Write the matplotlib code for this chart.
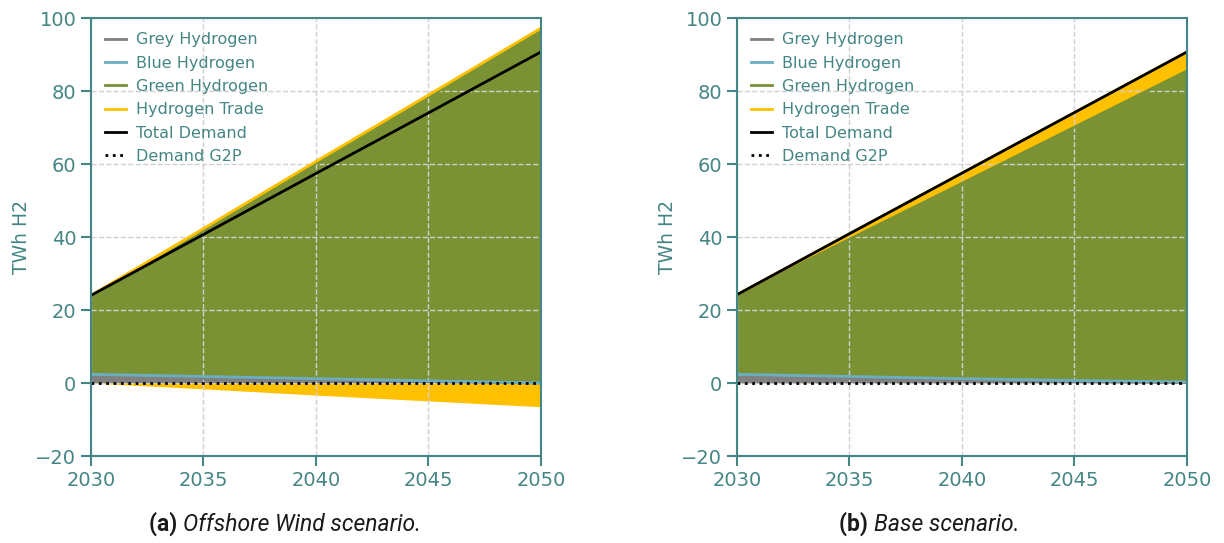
import matplotlib
matplotlib.use("Agg")
import matplotlib.pyplot as plt

# hydrogen supply per scenario, TWh H2
years = [2030, 2035, 2040, 2045, 2050]

demand_ow = [24.0, 40.7, 57.4, 74.0, 90.7]
grey_ow = [1.6, 1.2, 0.8, 0.4, 0.0]
blue_ow = [0.8, 0.6, 0.4, 0.2, 0.0]
green_ow = [21.2, 40.0, 59.0, 77.7, 96.5]
import_ow = [0.4, 0.5, 0.5, 0.6, 0.7]
export_ow = [0.0, -1.6, -3.3, -4.9, -6.5]
g2p_ow = [0.0, 0.0, 0.0, 0.0, 0.0]

demand_base = [24.2, 40.9, 57.5, 74.1, 90.7]
grey_base = [1.6, 1.2, 0.8, 0.4, 0.1]
blue_base = [0.8, 0.6, 0.4, 0.3, 0.2]
green_base = [21.5, 37.6, 53.5, 69.4, 85.2]
import_base = [0.3, 1.5, 2.8, 4.0, 5.2]
export_base = [0.0, 0.0, 0.0, 0.0, 0.0]
g2p_base = [0.0, 0.0, 0.0, 0.0, 0.0]

captions = [("(a)", "Offshore Wind scenario."), ("(b)", "Base scenario.")]

TEAL = "#448585"
C_GREY = "#808080"
C_BLUE = "#6aaebf"
C_GREEN = "#7a9234"
C_TRADE = "#ffc000"

fig = plt.figure(figsize=(12.24, 5.43), dpi=100)
ax1 = fig.add_axes([0.0743, 0.1602, 0.3676, 0.8066])
ax2 = fig.add_axes([0.6021, 0.1602, 0.3676, 0.8066])


def draw_panel(ax, grey, blue, green, imp, exp, demand, g2p):
    b1 = grey
    b2 = [a + b for a, b in zip(b1, blue)]
    b3 = [a + b for a, b in zip(b2, green)]
    b4 = [a + b for a, b in zip(b3, imp)]
    ax.fill_between(years, 0, b1, color=C_GREY, lw=0)
    ax.fill_between(years, b1, b2, color=C_BLUE, lw=0)
    ax.fill_between(years, b2, b3, color=C_GREEN, lw=0)
    ax.fill_between(years, b3, b4, color=C_TRADE, lw=0)
    ax.fill_between(years, 0, exp, color=C_TRADE, lw=0)
    ax.plot(years, b1, color=C_GREY, lw=2, label="Grey Hydrogen")
    ax.plot(years, b2, color=C_BLUE, lw=2, label="Blue Hydrogen")
    ax.plot(years, b3, color=C_GREEN, lw=2, label="Green Hydrogen")
    ax.plot(years, b4, color=C_TRADE, lw=2, label="Hydrogen Trade")
    ax.plot(years, demand, color="black", lw=2, label="Total Demand")
    ax.plot(years, g2p, color="black", lw=2, ls=":", label="Demand G2P")

    ax.set_xlim(2030, 2050)
    ax.set_ylim(-20, 100)
    ax.set_xticks(years)
    ax.set_yticks(range(-20, 101, 20))
    ax.set_axisbelow("line")
    ax.grid(True, ls="--", color="#d0d0d0", lw=1)
    ax.set_ylabel("TWh H2", color=TEAL, fontsize=13.5, labelpad=3)
    ax.tick_params(colors=TEAL, labelcolor=TEAL, labelsize=14,
                   length=7, width=1.5, direction="out")
    for sp in ax.spines.values():
        sp.set_color(TEAL)
        sp.set_linewidth(1.5)
        sp.set_zorder(3)
    leg = ax.legend(loc="upper left", frameon=False, fontsize=11.5,
                    handlelength=1.3, handletextpad=0.65, labelspacing=0.52)
    for t in leg.get_texts():
        t.set_color(TEAL)


draw_panel(ax1, grey_ow, blue_ow, green_ow, import_ow, export_ow, demand_ow, g2p_ow)
draw_panel(ax2, grey_base, blue_base, green_base, import_base, export_base,
           demand_base, g2p_base)

# subfigure captions: bold tag followed by italic title
fig.canvas.draw()
renderer = fig.canvas.get_renderer()
for (tag, title), cx in zip(captions, [285, 929]):
    t1 = fig.text(0, 0, tag + " ", fontsize=16.5, fontweight="bold",
                  family="Roboto", color="#1a1a1a", transform=None)
    t2 = fig.text(0, 0, title, fontsize=16.5, style="italic",
                  family="Roboto", color="#1a1a1a", transform=None)
    w1 = t1.get_window_extent(renderer).width
    w2 = t2.get_window_extent(renderer).width
    x0 = cx - (w1 + w2) / 2
    y0 = 543 - 531
    t1.set_position((x0, y0))
    t2.set_position((x0 + w1, y0))

fig.savefig("out.png", dpi=100)
